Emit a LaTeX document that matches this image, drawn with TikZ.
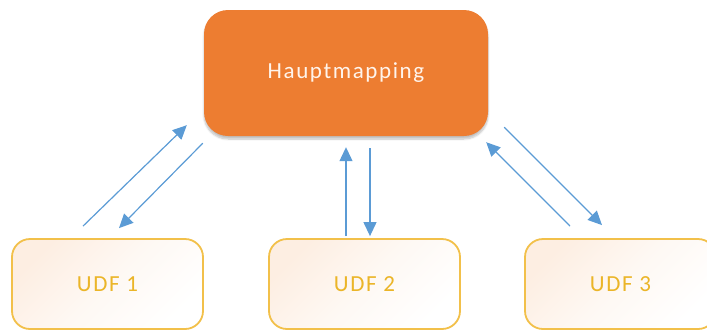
\documentclass[tikz,border=0pt]{standalone}
\usepackage{fontspec}
\setmainfont{Carlito}
\usetikzlibrary{arrows.meta,calc,shadows.blur}
\definecolor{hauptorange}{HTML}{ED7D31}
\definecolor{hauptText}{HTML}{FFF4EC}
\definecolor{udfBorder}{HTML}{F2C04A}
\definecolor{udfText}{HTML}{EBB528}
\definecolor{udfFill}{HTML}{FDEEE2}
\definecolor{arrowBlue}{HTML}{5B9BD5}
\begin{document}
\begin{tikzpicture}[x=1pt,y=-1pt,
  mainbox/.style={draw=none, fill=hauptorange, rounded corners=24pt,
    minimum width=284pt, minimum height=126pt, inner sep=0pt,
    text=hauptText, font=\fontsize{23}{26}\selectfont\addfontfeature{LetterSpace=7},
    blur shadow={shadow xshift=0pt, shadow yshift=-3pt, shadow blur steps=6, shadow opacity=25}},
  udfbox/.style={draw=udfBorder, line width=1.8pt, rounded corners=18pt,
    top color=udfFill, bottom color=white, middle color=white!60!udfFill, shading angle=45,
    minimum width=191pt, minimum height=90pt, inner sep=0pt,
    text=udfText, font=\fontsize{23}{26}\selectfont\addfontfeature{LetterSpace=7}},
  link/.style={draw=arrowBlue, line width=1.2pt, -{Triangle[length=14pt,width=13pt]}}
]
\useasboundingbox (0,0) rectangle (707,330);
\node[mainbox] (h) at (346,73) {Hauptmapping};
\node[udfbox] (u1) at (107.5,284) {UDF 1};
\node[udfbox] (u2) at (364.5,284) {UDF 2};
\node[udfbox] (u3) at (620.5,284) {UDF 3};
% UDF 1
\draw[link] ($(u1.north)+(-24.5,-12)$) -- ($(h.south west)+(-17,-11)$);
\draw[link] ($(h.south west)+(-1,7)$) -- ($(u1.north)+(11.5,-10)$);
% UDF 2
\draw[link] ($(u2.north)+(-18.5,-2)$) -- ($(h.south)+(0,11)$);
\draw[link] ($(h.south)+(24,12)$) -- ($(u2.north)+(5.5,-2)$);
% UDF 3
\draw[link] ($(h.south east)+(16,-9)$) -- ($(u3.north)+(-18.5,-13)$);
\draw[link] ($(u3.north)+(-50.5,-12)$) -- ($(h.south east)+(-2,6)$);
\end{tikzpicture}
\end{document}
